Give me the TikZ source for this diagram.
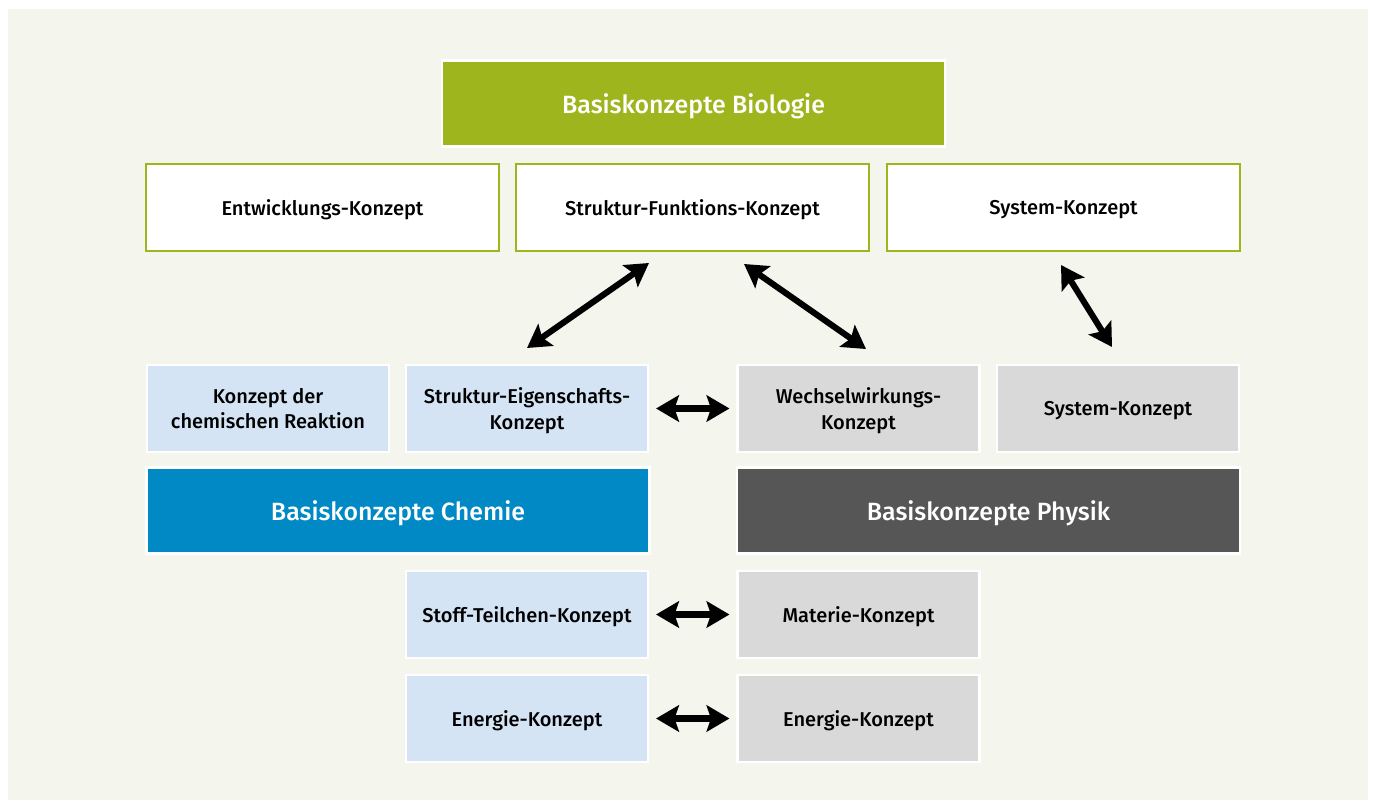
\documentclass[tikz,border=0pt]{standalone}
\usepackage{fontspec}
\setmainfont{Fira Sans}
\newfontfamily\medfont{Fira Sans Medium}
\usetikzlibrary{arrows.meta}
\definecolor{bgc}{HTML}{F4F5ED}
\definecolor{bio}{HTML}{9FB51D}
\definecolor{chem}{HTML}{0089C5}
\definecolor{phys}{HTML}{565656}
\definecolor{lblue}{HTML}{D4E4F4}
\definecolor{lgray}{HTML}{D9D9D9}
\tikzset{
  x=0.02cm, y=-0.02cm,
  base/.style={draw=white, line width=1.2pt, inner sep=0pt, align=center, text depth=0pt, font=\medfont\fontsize{11.4}{14.5}\selectfont},
  head/.style={base, text=white, minimum width=10.06cm, minimum height=1.72cm, font=\medfont\fontsize{14.2}{17}\selectfont},
  biobox/.style={base, fill=white, draw=bio, minimum width=7.06cm, minimum height=1.74cm},
  chembox/.style={base, fill=lblue, minimum width=4.84cm, minimum height=1.74cm},
  physbox/.style={base, fill=lgray, minimum width=4.84cm, minimum height=1.74cm},
  dbl/.style={line width=3.5pt, {Stealth[length=13pt, width=15pt, inset=2.5pt]}-{Stealth[length=13pt, width=15pt, inset=2.5pt]}}
}
\begin{document}
\begin{tikzpicture}
\useasboundingbox (0,0) rectangle (1375,810);
\fill[white] (0,0) rectangle (1375,810);
\fill[bgc] (8,9) rectangle (1368,800);

\node[head, fill=bio] (bio) at (693.5,103.5) {Basiskonzepte Biologie};
\node[biobox] (ent) at (322.5,207.5) {Entwicklungs-Konzept};
\node[biobox] (sf) at (692.5,207.5) {Struktur-Funktions-Konzept};
\node[biobox] (sysb) at (1063.5,207.5) {System-Konzept};

\node[chembox] (reak) at (268,408.5) {Konzept der\\chemischen Reaktion};
\node[chembox] (se) at (527,408.5) {Struktur-Eigenschafts-\\Konzept};
\node[physbox] (ww) at (858.5,408.5) {Wechselwirkungs-\\Konzept};
\node[physbox] (sysp) at (1118,408.5) {System-Konzept};

\node[head, fill=chem] (chemh) at (398,510.5) {Basiskonzepte Chemie};
\node[head, fill=phys] (physh) at (988.5,510.5) {Basiskonzepte Physik};

\node[chembox] (stoff) at (527,614.5) {Stoff-Teilchen-Konzept};
\node[physbox] (mat) at (858.5,614.5) {Materie-Konzept};
\node[chembox] (enc) at (527,718.5) {Energie-Konzept};
\node[physbox] (enp) at (858.5,718.5) {Energie-Konzept};

\coordinate (a1s) at (649,263);
\coordinate (a1e) at (527,348);
\coordinate (a2s) at (744,264);
\coordinate (a2e) at (866,349);
\coordinate (a3s) at (1061,265);
\coordinate (a3e) at (1112,347);
\draw[dbl] (a1s) -- (a1e);
\draw[dbl] (a2s) -- (a2e);
\draw[dbl] (a3s) -- (a3e);

\draw[dbl, shorten <=4pt, shorten >=4pt] (se.east) -- (ww.west);
\draw[dbl, shorten <=4pt, shorten >=4pt] (stoff.east) -- (mat.west);
\draw[dbl, shorten <=4pt, shorten >=4pt] (enc.east) -- (enp.west);
\end{tikzpicture}
\end{document}
